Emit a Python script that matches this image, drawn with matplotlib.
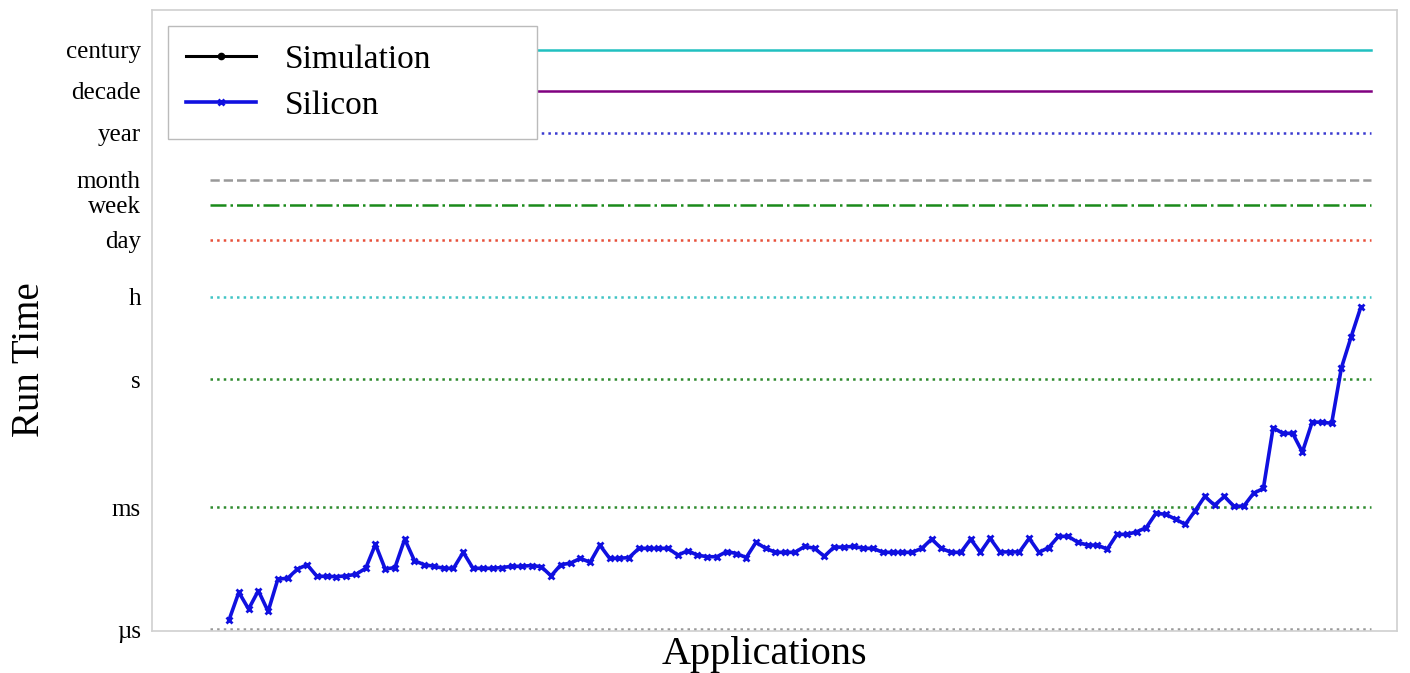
import matplotlib
matplotlib.use("Agg")
import matplotlib.pyplot as plt
import numpy as np

plt.rcParams['font.family'] = ['Liberation Serif', 'DejaVu Serif']

# Tick labels and their positions on the (log-like) run-time axis
time_labels = ["µs", "ms", "s", "h", "day", "week", "month", "year", "decade", "century"]
time_levels = [-6.0, -2.95, 0.25, 2.325, 3.75, 4.625, 5.25, 6.425, 7.475, 8.5]

# Reference line styles for each level (colour, linestyle)
level_colors = ["#999999", "#2e8b2e", "#2e8b2e", "#40c4c4", "#e8503a", "#1a8a1a",
                "#999999", "#3a3ad0", "#800080", "#20c0c0"]
level_styles = [":", ":", ":", ":", ":", "-.", "--", ":", "-", "-"]

# Silicon run times (same log-like units), one per application
silicon = [
    -5.77, -5.08, -5.50, -5.04, -5.56, -4.75, -4.73, -4.50, -4.39, -4.68,
    -4.68, -4.69, -4.67, -4.63, -4.48, -3.88, -4.50, -4.46, -3.75, -4.29,
    -4.39, -4.43, -4.48, -4.48, -4.08, -4.48, -4.48, -4.48, -4.46, -4.43,
    -4.43, -4.41, -4.44, -4.67, -4.39, -4.35, -4.23, -4.33, -3.90, -4.23,
    -4.23, -4.21, -3.98, -3.98, -3.98, -3.98, -4.15, -4.04, -4.15, -4.19,
    -4.19, -4.06, -4.11, -4.21, -3.83, -3.98, -4.08, -4.08, -4.08,
    -3.93, -3.98, -4.18, -3.95, -3.95, -3.93, -3.98, -3.98, -4.08, -4.08,
    -4.08, -4.08, -3.98, -3.75, -3.98, -4.08, -4.08, -3.75, -4.08, -3.73,
    -4.07, -4.07, -4.07, -3.73, -4.08, -3.96, -3.68, -3.68, -3.83, -3.90,
    -3.90, -4.00, -3.63, -3.63, -3.57, -3.46, -3.10, -3.13, -3.25,
    -3.38, -3.04, -2.68, -2.90, -2.68, -2.93, -2.92, -2.60, -2.48, -0.96,
    -1.10, -1.10, -1.57, -0.82, -0.82, -0.85, 0.54, 1.32, 2.07,
]
simulation = []  # no simulation points drawn

apps = np.arange(len(silicon))

fig = plt.figure(figsize=(14.1, 6.73), dpi=100)
ax = fig.add_axes([0.1078, 0.0624, 0.8830, 0.9227])

x_line = [-2, len(silicon)]
for lvl, col, ls in zip(time_levels, level_colors, level_styles):
    ax.plot(x_line, [lvl, lvl], color=col, linestyle=ls, linewidth=1.8, zorder=1)

ax.plot(apps[:len(simulation)], simulation, color="black", marker=".", linewidth=2.2,
        markersize=9, label="Simulation")
ax.plot(apps, silicon, color="#1010e0", marker="x", linewidth=2.6, markersize=5,
        markeredgewidth=2, label="Silicon", zorder=3)

ax.set_xlim(-7.9, 119.7)
ax.set_ylim(-6.05, 9.5)
ax.set_xticks([])
ax.set_yticks(time_levels)
ax.set_yticklabels(time_labels, fontsize=18)
ax.tick_params(axis="y", length=0, pad=8)
for sp in ax.spines.values():
    sp.set_color("#d0d0d0")
    sp.set_linewidth(1.2)

ax.set_ylabel("Run Time", fontsize=28)
ax.yaxis.set_label_coords(-0.0835, 0.437)
ax.set_xlabel("Applications", fontsize=29)
ax.xaxis.set_label_coords(0.4916, -0.008)

leg = ax.legend(loc="upper left", fontsize=24, frameon=True, fancybox=False,
                handlelength=2.1, borderpad=0.55, labelspacing=0.45,
                handletextpad=0.85, borderaxespad=0.0, mode="expand",
                bbox_to_anchor=(0.0129, 0.797, 0.296, 0.177))
leg.get_frame().set_edgecolor("#bbbbbb")
leg.get_frame().set_alpha(1.0)
leg.set_zorder(5)

fig.savefig("out.png", dpi=100)
